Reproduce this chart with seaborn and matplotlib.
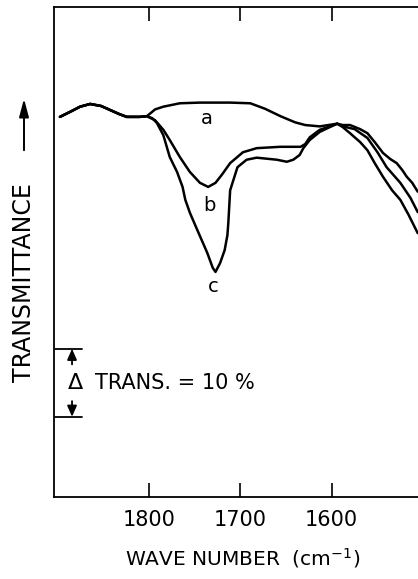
import matplotlib
matplotlib.use("Agg")
import matplotlib.pyplot as plt
import seaborn as sns
import pandas as pd

# ---------------- data ----------------
# shared baseline before the curves split
wn_common = [1897, 1885, 1875, 1864, 1852, 1842, 1832, 1824, 1816, 1810, 1802]
t_common = [55.9, 56.7, 57.4, 57.8, 57.5, 56.9, 56.3, 55.9, 55.9, 55.9, 56.0]

# curve a
wn_a = [1793, 1784, 1766, 1744, 1711, 1689, 1673, 1656, 1640, 1629, 1613, 1594,
        1588, 1580, 1569, 1561, 1553, 1544, 1536, 1529, 1523, 1518, 1512, 1506]
t_a = [57.0, 57.4, 57.9, 58.0, 58.0, 57.9, 57.1, 56.0, 55.1, 54.7, 54.5, 54.9,
       54.7, 54.7, 54.1, 53.5, 52.2, 50.6, 49.7, 49.1, 48.1, 47.1, 46.2, 44.9]

# curve b
wn_b = [1793, 1784, 1777, 1766, 1755, 1744, 1735, 1727, 1720, 1711, 1697, 1682,
        1656, 1634, 1629, 1624, 1613, 1602, 1594,
        1588, 1575, 1561, 1550, 1540, 1525, 1514, 1506]
t_b = [55.4, 54.0, 52.5, 50.0, 47.8, 46.2, 45.6, 46.2, 47.4, 49.1, 50.7, 51.3,
       51.5, 51.5, 51.9, 52.9, 54.0, 54.5, 54.9,
       54.5, 54.1, 52.8, 50.7, 48.5, 46.2, 44.0, 41.9]

# curve c
wn_c = [1796, 1791, 1784, 1777, 1769, 1763, 1760, 1755, 1747, 1736, 1730, 1727,
        1722, 1717, 1714, 1713, 1711, 1703, 1693, 1682, 1660, 1649, 1642, 1635,
        1631, 1624, 1613, 1602, 1594,
        1588, 1580, 1569, 1561, 1553, 1544, 1534, 1525, 1516, 1506]
t_c = [55.7, 55.0, 53.2, 50.0, 47.8, 45.6, 43.7, 41.8, 39.3, 35.9, 33.7, 33.1,
       34.4, 36.3, 38.5, 40.3, 45.1, 48.5, 49.6, 49.9, 49.6, 49.3, 49.6, 50.3,
       51.3, 52.5, 53.7, 54.4, 54.9,
       54.4, 53.5, 52.2, 51.0, 49.1, 47.1, 45.1, 43.7, 41.5, 38.8]

curve_names = ["a", "b", "c"]
label_pos_wn = [1736, 1734, 1730]
label_pos_t = [55.7, 42.8, 30.9]

tick_values = [1800, 1700, 1600]
tick_labels = ["1800", "1700", "1600"]

scalebar_low = 11.8
scalebar_high = 21.8   # 10 % transmittance
scalebar_text = "TRANS. = 10 %"

# ---------------- build table ----------------
rows = []
for name, wns, ts in zip(curve_names, [wn_a, wn_b, wn_c], [t_a, t_b, t_c]):
    for w, t in zip(wn_common + wns, t_common + ts):
        rows.append({"wn": w, "T": t, "curve": name})
df = pd.DataFrame(rows)

# ---------------- figure ----------------
sns.set_style("ticks")
plt.rcParams["font.family"] = ["DejaVu Sans"]

W, H = 418, 579
fig = plt.figure(figsize=(W / 100, H / 100), dpi=100)
ax = fig.add_axes([54 / W, 1 - 497 / H, (W - 54) / W, (497 - 7) / H])

sns.lineplot(data=df, x="wn", y="T", units="curve", estimator=None,
             color="black", linewidth=1.8, sort=False, ax=ax, legend=False)

ax.set_xlim(1903.5, 1505.7)
ax.set_ylim(0, (497 - 7) / 6.8)

ax.set_xticks(tick_values)
ax.set_xticklabels(tick_labels, fontsize=15)
ax.set_yticks([])
ax.tick_params(axis="x", which="both", direction="in", top=True, bottom=True,
               length=10, width=1.2, pad=9, color="black", labelcolor="black")
for side in ["left", "top", "bottom"]:
    ax.spines[side].set_linewidth(1.3)
    ax.spines[side].set_color("black")
ax.spines["right"].set_visible(False)
ax.set_xlabel("")
ax.set_ylabel("")

# curve labels
for name, w, t in zip(curve_names, label_pos_wn, label_pos_t):
    ax.text(w, t, name, fontsize=14, ha="center", va="center", color="black")

# scale bar
cap_x0, cap_x1, bar_x = 1902.4, 1872.9, 1883.8
ax.plot([cap_x0, cap_x1], [scalebar_high, scalebar_high], color="black", lw=1.3, clip_on=False)
ax.plot([cap_x0, cap_x1], [scalebar_low, scalebar_low], color="black", lw=1.3, clip_on=False)
arrow_style = "-|>,head_length=0.5,head_width=0.22"
ax.annotate("", xy=(bar_x, scalebar_high), xytext=(bar_x, scalebar_high - 2.3),
            arrowprops=dict(arrowstyle=arrow_style, color="black", lw=1.3,
                            mutation_scale=13, shrinkA=0, shrinkB=0))
ax.annotate("", xy=(bar_x, scalebar_low), xytext=(bar_x, scalebar_low + 2.3),
            arrowprops=dict(arrowstyle=arrow_style, color="black", lw=1.3,
                            mutation_scale=13, shrinkA=0, shrinkB=0))
mid = (scalebar_low + scalebar_high) / 2
ax.text(1880, mid, "Δ", fontsize=16, ha="center", va="center", color="black")
ax.text(1858.7, mid, scalebar_text, fontsize=15, ha="left", va="center", color="black")

# axis titles
fig.text(24 / W, 1 - 283 / H, "TRANSMITTANCE", rotation=90, fontsize=17,
         ha="center", va="center", color="black")
fig.patches.append(matplotlib.patches.FancyArrowPatch(
    (24 / W, 1 - 153 / H), (24 / W, 1 - 96 / H), transform=fig.transFigure,
    arrowstyle="-|>,head_length=0.6,head_width=0.16", mutation_scale=18,
    color="black", lw=1.4))
fig.text(243 / W, 1 - 558 / H, "WAVE NUMBER  (cm$^{-1}$)", fontsize=14.5,
         ha="center", va="center", color="black")

fig.savefig("out.png", dpi=100)
